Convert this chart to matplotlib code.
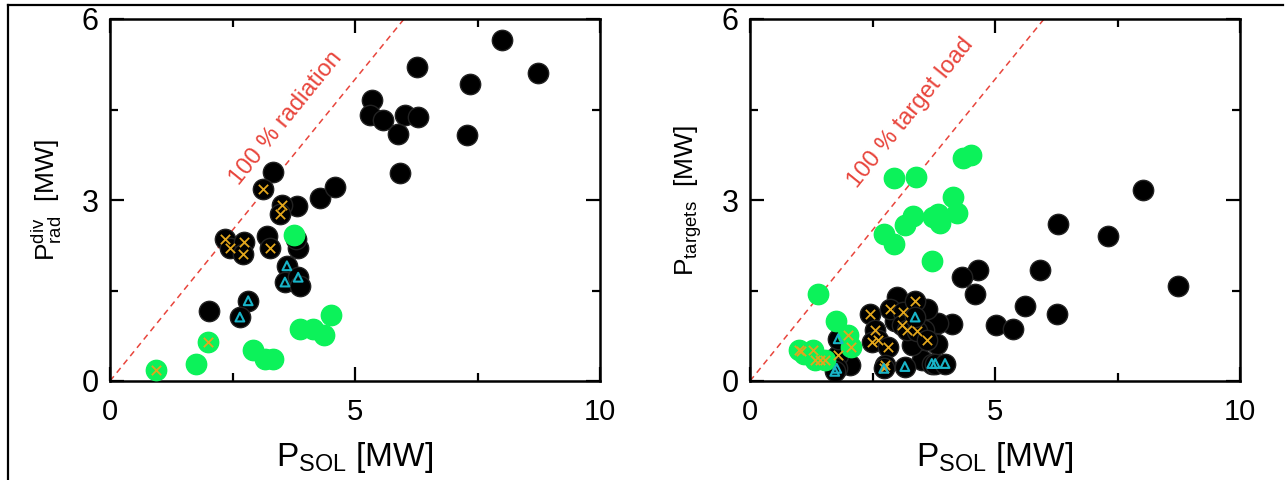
import numpy as np
import matplotlib
matplotlib.use("Agg")
import matplotlib.pyplot as plt
from matplotlib.lines import Line2D
from matplotlib import font_manager

plt.rcParams['font.family'] = ['Liberation Sans', 'DejaVu Sans']
plt.rcParams['mathtext.default'] = 'regular'

# ---- left panel: divertor radiation vs P_SOL ----
rad_black_x = [8.01, 6.26, 8.73, 7.35, 5.34, 5.31, 5.58, 6.02, 6.29, 5.88, 7.28, 5.92,
               3.33, 3.13, 4.29, 4.59, 3.81, 3.50, 3.47, 2.35, 2.45, 2.73, 2.72, 3.20,
               3.27, 3.84, 3.80, 3.61, 3.57, 3.84, 3.88, 2.82, 2.65, 2.02]
rad_black_y = [5.65, 5.21, 5.11, 4.93, 4.66, 4.41, 4.33, 4.41, 4.38, 4.09, 4.07, 3.45,
               3.46, 3.19, 3.04, 3.21, 2.90, 2.92, 2.76, 2.35, 2.21, 2.30, 2.10, 2.41,
               2.21, 2.21, 2.35, 1.91, 1.64, 1.72, 1.58, 1.33, 1.06, 1.16]
rad_green_x = [3.76, 4.52, 3.88, 4.15, 4.37, 2.01, 2.91, 3.16, 3.33, 1.75, 0.94]
rad_green_y = [2.42, 1.09, 0.87, 0.87, 0.76, 0.64, 0.51, 0.37, 0.37, 0.29, 0.19]
rad_cross_x = [3.13, 3.50, 3.47, 2.35, 2.45, 2.73, 2.72, 3.27, 2.01, 0.94]
rad_cross_y = [3.19, 2.92, 2.76, 2.35, 2.21, 2.30, 2.10, 2.21, 0.64, 0.19]
rad_tri_x = [3.61, 3.57, 3.84, 2.82, 2.65]
rad_tri_y = [1.91, 1.64, 1.72, 1.33, 1.06]

# ---- right panel: target load vs P_SOL ----
tgt_black_x = [8.03, 6.28, 7.30, 5.92, 8.74, 4.66, 4.32, 4.59, 5.61, 6.26, 5.03, 5.36,
               4.12, 3.84, 3.61, 3.00, 3.81, 3.50, 2.04, 1.63, 3.30, 3.55, 2.95,
               2.45, 2.55, 2.62, 2.48, 2.82, 2.86, 3.13, 3.37, 3.10, 3.20, 3.40, 3.61,
               1.80, 2.76, 2.73, 3.37, 1.80, 1.77, 1.73, 3.16, 3.71, 3.78, 3.98]
tgt_black_y = [3.16, 2.61, 2.41, 1.84, 1.57, 1.84, 1.72, 1.44, 1.25, 1.11, 0.92, 0.87,
               0.95, 0.96, 1.20, 1.39, 0.62, 0.35, 0.26, 0.35, 0.60, 0.85, 1.00,
               1.11, 0.84, 0.68, 0.64, 0.57, 1.20, 1.14, 1.33, 0.92, 0.84, 0.83, 0.68,
               0.43, 0.26, 0.21, 1.06, 0.70, 0.21, 0.16, 0.24, 0.29, 0.29, 0.29]
tgt_green_x = [4.52, 4.35, 2.93, 3.39, 4.15, 4.22, 3.84, 3.74, 3.88, 3.33, 3.16, 2.73,
               2.93, 3.71, 1.39, 1.76, 2.01, 2.07, 0.99, 1.29, 1.33, 1.53, 1.10]
tgt_green_y = [3.75, 3.70, 3.36, 3.38, 3.05, 2.79, 2.76, 2.71, 2.62, 2.73, 2.59, 2.43,
               2.27, 1.99, 1.44, 1.00, 0.76, 0.57, 0.51, 0.51, 0.35, 0.35, 0.45]
tgt_cross_x = [2.45, 2.55, 2.62, 2.48, 2.82, 2.86, 3.13, 3.37, 3.10, 3.20, 3.40, 3.61,
               1.80, 2.76, 2.73, 2.01, 2.07, 0.99, 1.05, 1.29, 1.33, 1.43, 1.53]
tgt_cross_y = [1.11, 0.84, 0.68, 0.64, 0.57, 1.20, 1.14, 1.33, 0.92, 0.84, 0.83, 0.68,
               0.43, 0.26, 0.21, 0.76, 0.57, 0.51, 0.49, 0.51, 0.35, 0.35, 0.35]
tgt_tri_x = [3.37, 1.80, 1.77, 1.73, 2.73, 3.16, 3.71, 3.78, 3.98]
tgt_tri_y = [1.06, 0.70, 0.21, 0.16, 0.21, 0.24, 0.29, 0.29, 0.29]

GREEN = '#0cf25a'
GOLD = '#e2a61c'
CYAN = '#18b4c8'
RED = '#e8453c'

# narrow face for the x tick numbers if one is installed
_names = {f.name for f in font_manager.fontManager.ttflist}
if 'Liberation Sans Narrow' in _names:
    XTICK_FONT, XTICK_SIZE = ['Liberation Sans Narrow'], 23
else:
    XTICK_FONT, XTICK_SIZE = ['Liberation Sans'], 21


def draw_panel(ax, bx, by, gx, gy, cx, cy, tx, ty, ylabel, note, note_xy):
    ax.scatter(bx, by, s=215, c='black', edgecolors='#222222', linewidths=1.0, zorder=2)
    ax.scatter(gx, gy, s=215, c=GREEN, edgecolors=GREEN, linewidths=1.0, zorder=3)
    ax.scatter(cx, cy, s=45, marker='x', c=GOLD, linewidths=1.3, zorder=4)
    ax.scatter(tx, ty, s=40, marker='^', facecolors='none', edgecolors=CYAN,
               linewidths=1.5, zorder=4)
    ax.plot([0, 10], [0, 10], ls=(0, (4, 3)), color=RED, lw=1.1, zorder=1)
    ax.text(note_xy[0], note_xy[1], note, rotation=51, color=RED, fontsize=17,
            ha='center', va='center', rotation_mode='anchor')

    ax.set_xlim(0, 10)
    ax.set_ylim(0, 6)
    ax.set_xticks([0, 5, 10])
    ax.set_yticks([0, 3, 6])
    ax.set_xticks([2.5, 7.5], minor=True)
    ax.set_yticks([1.5, 4.5], minor=True)
    ax.tick_params(which='both', direction='in', top=True, right=True, width=1.6)
    ax.tick_params(which='major', length=10)
    ax.tick_params(which='minor', length=6)
    ax.tick_params(axis='y', labelsize=22, pad=8)
    ax.tick_params(axis='x', labelsize=XTICK_SIZE, pad=12)
    for lab in ax.get_xticklabels():
        lab.set_family(XTICK_FONT)
    for sp in ax.spines.values():
        sp.set_linewidth(1.8)
    ax.set_xlabel(r'$\mathregular{P_{SOL}}$ [MW]', fontsize=24, labelpad=10)
    ax.set_ylabel(ylabel, fontsize=19, labelpad=13)


fig = plt.figure(figsize=(12.85, 4.8), dpi=100)
ax1 = fig.add_axes([110 / 1285, 99 / 480, 490 / 1285, 362 / 480])
ax2 = fig.add_axes([750 / 1285, 99 / 480, 490 / 1285, 362 / 480])

draw_panel(ax1, rad_black_x, rad_black_y, rad_green_x, rad_green_y,
           rad_cross_x, rad_cross_y, rad_tri_x, rad_tri_y,
           r'$\mathregular{P_{rad}^{div}}$  [MW]', '100 % radiation', (3.6, 4.35))
draw_panel(ax2, tgt_black_x, tgt_black_y, tgt_green_x, tgt_green_y,
           tgt_cross_x, tgt_cross_y, tgt_tri_x, tgt_tri_y,
           r'$\mathregular{P_{targets}}$  [MW]', '100 % target load', (3.28, 4.45))

# frame around the figure (top and left edges)
fig.add_artist(Line2D([8 / 1285, 1283 / 1285], [1 - 5 / 480, 1 - 5 / 480],
                      transform=fig.transFigure, color='black', lw=1.6))
fig.add_artist(Line2D([8 / 1285, 8 / 1285], [0, 1 - 5 / 480],
                      transform=fig.transFigure, color='black', lw=1.6))

fig.savefig('out.png', dpi=100)
